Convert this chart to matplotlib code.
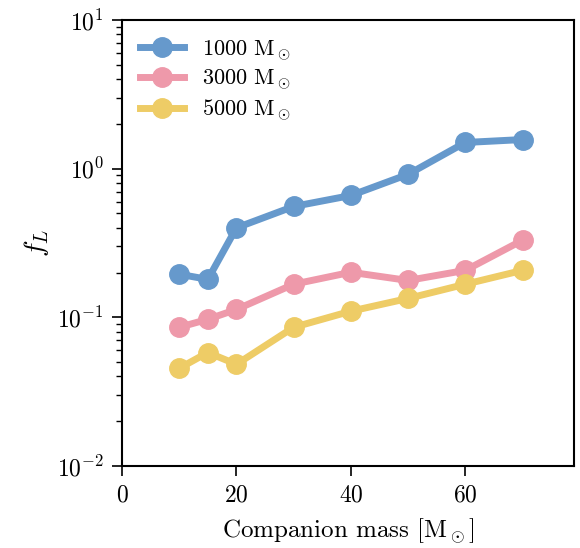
import numpy as np
import matplotlib
matplotlib.use('Agg')
import matplotlib.pyplot as plt

plt.rcParams['font.family'] = 'serif'
plt.rcParams['font.serif'] = ['cmr10']
plt.rcParams['mathtext.fontset'] = 'cm'
plt.rcParams['axes.formatter.use_mathtext'] = True

# companion masses
mass = [10, 15, 20, 30, 40, 50, 60, 70]

# f_L for each IMBH mass
f_1000 = [0.195, 0.180, 0.400, 0.557, 0.660, 0.916, 1.50, 1.57]
f_3000 = [0.0857, 0.097, 0.113, 0.167, 0.201, 0.177, 0.207, 0.33]
f_5000 = [0.0454, 0.058, 0.0483, 0.0857, 0.110, 0.134, 0.167, 0.207]

labels = [r'1000 $\mathrm{M}_\odot$', r'3000 $\mathrm{M}_\odot$', r'5000 $\mathrm{M}_\odot$']
colors = ['#6699CC', '#EE99AA', '#EECC66']

fig = plt.figure(figsize=(5.8, 5.48), dpi=100)
ax = fig.add_axes([122/580, 1-466/548, (574-122)/580, (466-20)/548])

for f, lab, c in zip([f_1000, f_3000, f_5000], labels, colors):
    ax.plot(mass, f, '-o', color=c, lw=5, ms=14, label=lab)

ax.set_yscale('log')
ax.set_ylim(1e-2, 1e1)
ax.set_xlim(0, 79)
ax.set_xticks([0, 20, 40, 60])
ax.tick_params(axis='both', which='major', labelsize=17, length=7, width=1.2, pad=6)
ax.tick_params(axis='both', which='minor', length=4, width=1.0)
for s in ax.spines.values():
    s.set_linewidth(1.5)

ax.set_xlabel(r'Companion mass [$\mathrm{M}_\odot$]', fontsize=18, labelpad=8)
ax.set_ylabel(r'$f_L$', fontsize=20)
ax.legend(loc='upper left', fontsize=16, frameon=False, handlelength=2.0,
          borderaxespad=0.4, labelspacing=0.22)

fig.savefig('out.png', dpi=100)
